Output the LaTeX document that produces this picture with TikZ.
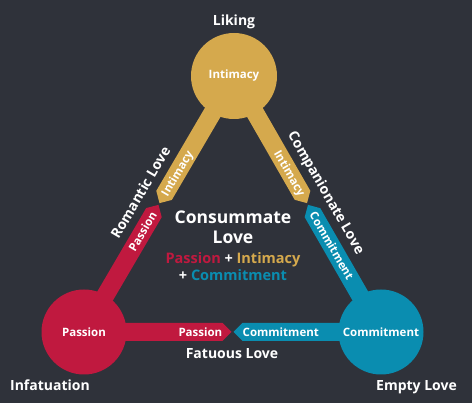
\documentclass[tikz,border=0pt]{standalone}
\usepackage{fontspec}
\setmainfont{Open Sans}
\usetikzlibrary{calc}
\definecolor{bg}{HTML}{2F323A}
\definecolor{pas}{HTML}{C0193F}
\definecolor{com}{HTML}{0A8DB0}
\definecolor{inti}{HTML}{D5A94D}
\newcommand\halfbar[4]{% colour, from centre, midpoint name, to centre
  \coordinate (tq) at ($(#3)!1pt!(#2)$);
  \coordinate (sq) at ($(tq)!9pt!(#2)$);
  \fill[#1] ($(#2)!9pt!90:(tq)$) -- ($(sq)!9pt!90:(tq)$) -- (tq) -- ($(sq)!9pt!-90:(tq)$) -- ($(#2)!9pt!-90:(tq)$) -- cycle;
}
\begin{document}
\begin{tikzpicture}[x=1pt,y=-1pt,
  hub/.style={circle, minimum size=85pt, inner sep=0pt, text=white,
    font=\bfseries\fontsize{11.5}{13}\selectfont},
  big/.style={text=white, inner sep=0pt, text height=10pt, text depth=0pt,
    font=\bfseries\fontsize{14}{16}\selectfont},
  inbar/.style={text=white, inner sep=0pt, text height=8.2pt, text depth=0pt,
    font=\bfseries\fontsize{11.5}{13}\selectfont},
  mid/.style={inner sep=0pt, text height=10.4pt, text depth=0pt,
    font=\bfseries\fontsize{14.5}{16}\selectfont}]
\fill[bg] (0,0) rectangle (472,403);
\useasboundingbox (0,0) rectangle (472,403);
\coordinate (cI) at (234,76);
\coordinate (cP) at (84,332);
\coordinate (cC) at (381,332);
\coordinate (mL) at ($(cP)!0.5!(cI)$);
\coordinate (mR) at ($(cI)!0.5!(cC)$);
\coordinate (mB) at ($(cP)!0.5!(cC)$);
% bars
\halfbar{inti}{cI}{mL}{cP}
\halfbar{pas}{cP}{mL}{cI}
\halfbar{inti}{cI}{mR}{cC}
\halfbar{com}{cC}{mR}{cI}
\halfbar{pas}{cP}{mB}{cC}
\halfbar{com}{cC}{mB}{cP}
% hubs
\node[hub, fill=inti, minimum size=86pt] (I) at (cI) {Intimacy};
\node[hub, fill=pas] (P) at (cP) {Passion};
\node[hub, fill=com] (C) at (cC) {Commitment};
% bar labels
\node[inbar, rotate=59.5, anchor=west] (lI) at ($(mL)!10pt!(cI)$) {Intimacy};
\node[inbar, rotate=59.5, anchor=east] (lP) at ($(mL)!10pt!(cP)$) {Passion};
\node[inbar, rotate=-60, anchor=east] (rI) at ($(mR)!10pt!(cI)$) {Intimacy};
\node[inbar, rotate=-60, anchor=west] (rC) at ($(mR)!10pt!(cC)$) {Commitment};
\node[inbar, anchor=east] (bP) at ($(mB)!10pt!(cP)$) {Passion};
\node[inbar, anchor=west] (bC) at ($(mB)!10pt!(cC)$) {Commitment};
% outer labels
\node[big] (liking) at (234,20.5) {Liking};
\node[big] (infat) at (50,386) {Infatuation};
\node[big] (empty) at (416.5,386) {Empty Love};
\node[big] (fatuous) at (232,354) {Fatuous Love};
\node[big, rotate=59.5] (romantic) at (140.5,192.6) {Romantic Love};
\node[big, rotate=-60] (compan) at (326.6,192.5) {Companionate Love};
% centre
\node[text=white, inner sep=0pt, text height=12.5pt, text depth=0pt,
  font=\bfseries\fontsize{17.5}{20}\selectfont] (cons1) at (233,217) {Consummate};
\node[text=white, inner sep=0pt, text height=12.5pt, text depth=0pt,
  font=\bfseries\fontsize{17.5}{20}\selectfont] (cons2) at (233,237) {Love};
\node[mid] (sum1) at (233,258) {\color{pas}Passion \color{white}+ \color{inti}Intimacy};
\node[mid] (sum2) at (233,275) {\color{white}+ \color{com}Commitment};
\end{tikzpicture}
\end{document}
